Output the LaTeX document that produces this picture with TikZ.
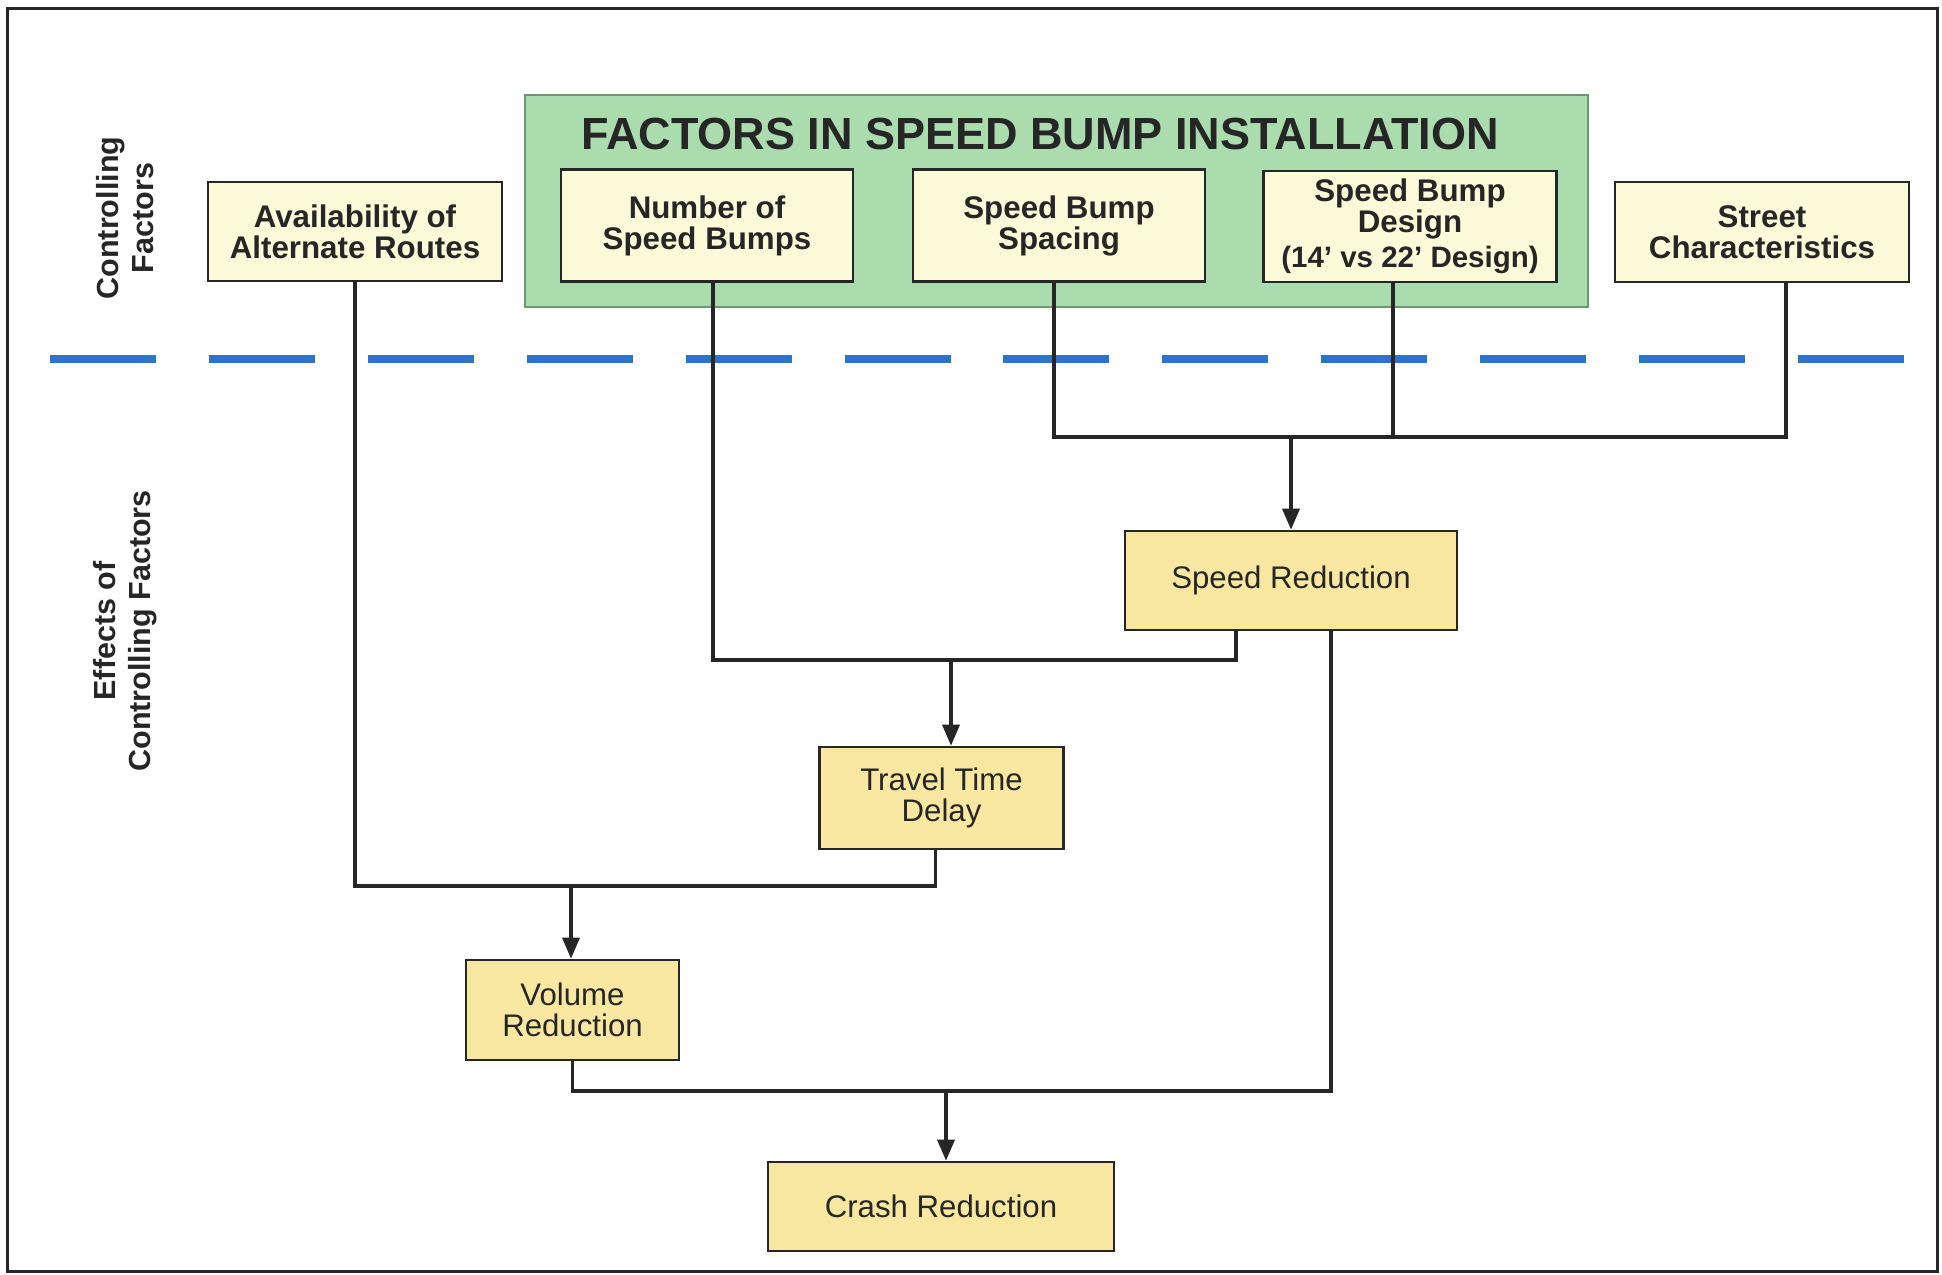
\documentclass[tikz,border=0pt]{standalone}
\usepackage{fontspec}
\setmainfont{Liberation Sans}
\usetikzlibrary{arrows.meta,calc}
\definecolor{topfill}{RGB}{250,250,216}
\definecolor{lowfill}{RGB}{247,231,160}
\definecolor{greenfill}{RGB}{170,220,174}
\definecolor{greenline}{RGB}{110,150,112}
\definecolor{dashblue}{RGB}{42,116,206}
\definecolor{ink}{RGB}{38,38,38}
\tikzset{
  frame/.style={draw=ink,line width=3pt},
  topbox/.style={draw=ink,line width=2.6pt,fill=topfill,rectangle,inner sep=0pt,align=center,text=ink,
    font=\bfseries\fontsize{31.3}{31}\selectfont},
  lowbox/.style={draw=ink,line width=2.6pt,fill=lowfill,rectangle,inner sep=0pt,align=center,text=ink,
    font=\fontsize{31.2}{31}\selectfont},
  sidelabel/.style={rotate=90,align=center,text=ink,font=\bfseries\fontsize{30.5}{35}\selectfont},
  conn/.style={draw=ink,line width=3.4pt,line join=miter},
  arr/.style={conn,-{Triangle[length=21pt,width=17pt]}}
}
\begin{document}
\begin{tikzpicture}[x=1pt,y=-1pt]
\useasboundingbox (0,0) rectangle (1942,1274);
\fill[white] (0,0) rectangle (1942,1274);
\draw[frame] (7,8) rectangle (1937,1271);

% green panel
\node[draw=greenline,line width=2pt,fill=greenfill,minimum width=1063pt,minimum height=212pt,inner sep=0pt] (panel) at (1056.5,201) {};
\node[text=ink,font=\bfseries\fontsize{45}{48}\selectfont] (title) at (1040,134.5) {FACTORS IN SPEED BUMP INSTALLATION};

% dashed separator
\draw[dashblue,line width=8pt,dash pattern=on 106pt off 52.9pt] (50,359) -- (1904,359);

% side labels
\node[sidelabel] (lab1) at (125,218) {Controlling\\Factors};
\node[sidelabel] (lab2) at (125,631) {Effects of\\Controlling Factors};

% top boxes
\node[topbox,minimum width=294pt,minimum height=99pt] (avail) at (355,231.5) {Availability of\\Alternate Routes};
\node[topbox,minimum width=292pt,minimum height=112pt] (number) at (707,225.5) {Number of\\Speed Bumps};
\node[topbox,minimum width=292pt,minimum height=112pt] (spacing) at (1059,225.5) {Speed Bump\\Spacing};
\node[topbox,minimum width=293pt,minimum height=111pt] (design) at (1410,226.5) {Speed Bump\\Design\\[4pt]{\fontsize{29.5}{31}\selectfont(14’ vs 22’ Design)}};
\node[topbox,minimum width=294pt,minimum height=100pt] (street) at (1762,232) {Street\\Characteristics};

% lower boxes
\node[lowbox,minimum width=332pt,minimum height=99pt] (speedred) at (1291,580.5) {Speed Reduction};
\node[lowbox,minimum width=244pt,minimum height=102pt] (travel) at (941.5,798) {Travel Time\\Delay};
\node[lowbox,minimum width=213pt,minimum height=100pt] (volume) at (572.5,1010) {Volume\\Reduction};
\node[lowbox,minimum width=346pt,minimum height=89pt] (crash) at (941,1206.5) {Crash Reduction};

% connection points
\coordinate (nu) at ([xshift=6pt]number.south);
\coordinate (sp) at ([xshift=-5pt]spacing.south);
\coordinate (de) at ([xshift=-17pt]design.south);
\coordinate (st) at ([xshift=24pt]street.south);
\coordinate (srl) at ([xshift=-55pt]speedred.south);
\coordinate (srr) at ([xshift=40pt]speedred.south);
\coordinate (tr) at ([xshift=-6pt]travel.south);
\coordinate (j1) at (1291,437);
\coordinate (j2) at (951,660);
\coordinate (j3) at (571,886);
\coordinate (j4) at (946,1091);

% connectors
\draw[conn] (sp) |- (st |- j1) -- (st);
\draw[conn] (de) -- (de |- j1);
\draw[arr] (j1) -- (speedred.north);

\draw[conn] (nu) |- (srl |- j2) -- (srl);
\draw[arr] (j2) -- (j2 |- travel.north);

\draw[conn] (avail.south) |- (tr |- j3) -- (tr);
\draw[arr] (j3) -- (j3 |- volume.north);

\draw[conn] (volume.south) |- (srr |- j4) -- (srr);
\draw[arr] (j4) -- (j4 |- crash.north);
\end{tikzpicture}
\end{document}
